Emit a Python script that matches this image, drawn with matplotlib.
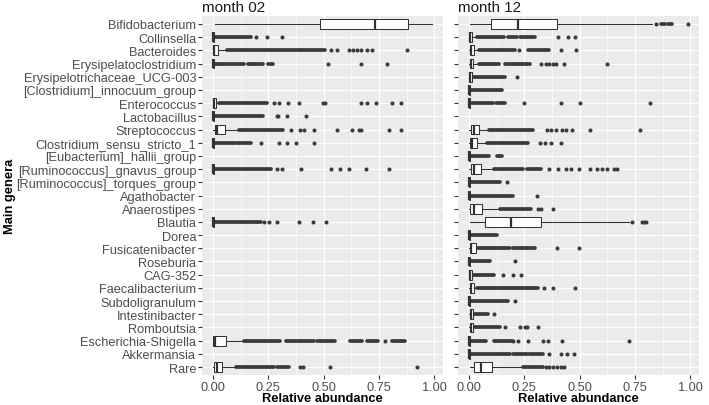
import matplotlib.pyplot as plt

plt.rcParams['font.family'] = ['Liberation Sans', 'DejaVu Sans']

# Data
genera = ["Bifidobacterium", "Collinsella", "Bacteroides", "Erysipelatoclostridium",
          "Erysipelotrichaceae_UCG-003", "[Clostridium]_innocuum_group", "Enterococcus",
          "Lactobacillus", "Streptococcus", "Clostridium_sensu_stricto_1",
          "[Eubacterium]_hallii_group", "[Ruminococcus]_gnavus_group",
          "[Ruminococcus]_torques_group", "Agathobacter", "Anaerostipes", "Blautia", "Dorea",
          "Fusicatenibacter", "Roseburia", "CAG-352", "Faecalibacterium", "Subdoligranulum",
          "Intestinibacter", "Romboutsia", "Escherichia-Shigella", "Akkermansia", "Rare"]
panels = ["month 02", "month 12"]

# box stats per genus: (whisker low, q1, median, q3, whisker high), None = no data
m02_box = [
    (0.008, 0.482, 0.731, 0.881, 0.988), (0, 0, 0.001, 0.003, 0.008),
    (0, 0.001, 0.005, 0.024, 0.065), (0, 0, 0.001, 0.003, 0.008), None, None,
    (0, 0.001, 0.003, 0.013, 0.027), (0, 0, 0.001, 0.003, 0.008),
    (0, 0.008, 0.02, 0.053, 0.117), (0, 0, 0.001, 0.003, 0.008), None,
    (0, 0, 0.001, 0.003, 0.008), None, None, None, (0, 0, 0.001, 0.003, 0.008),
    None, None, None, None, None, None, None, None,
    (0, 0.002, 0.01, 0.057, 0.14), None, (0, 0.005, 0.017, 0.042, 0.102)]
m12_box = [
    (0.006, 0.10, 0.22, 0.40, 0.828), (0, 0, 0.004, 0.012, 0.035),
    (0, 0.003, 0.008, 0.021, 0.046), (0, 0.004, 0.008, 0.019, 0.046),
    (0, 0, 0.004, 0.012, 0.024), (0, 0, 0.001, 0.003, 0.008), (0, 0, 0.001, 0.005, 0.012),
    None, (0, 0.009, 0.024, 0.046, 0.09), (0, 0.004, 0.012, 0.038, 0.083),
    (0, 0, 0.001, 0.003, 0.008), (0, 0.009, 0.024, 0.053, 0.112),
    (0, 0, 0.001, 0.003, 0.008), (0, 0, 0.001, 0.003, 0.008),
    (0, 0.004, 0.021, 0.06, 0.142), (0.003, 0.071, 0.19, 0.325, 0.725),
    (0, 0, 0.001, 0.003, 0.008), (0, 0.003, 0.008, 0.031, 0.04),
    (0, 0, 0.001, 0.003, 0.008), (0, 0, 0.004, 0.012, 0.016),
    (0, 0.003, 0.008, 0.021, 0.038), (0, 0, 0.001, 0.003, 0.008),
    (0, 0.004, 0.008, 0.019, 0.024), (0, 0.003, 0.008, 0.019, 0.027),
    (0, 0, 0.001, 0.005, 0.01), (0, 0, 0.001, 0.003, 0.008),
    (0.006, 0.024, 0.056, 0.105, 0.245)]

# runs of overlapping outliers (from, to)
m02_dense = [
    [], [(0.008, 0.17)], [(0.065, 0.507)],
    [(0.008, 0.08), (0.09, 0.14), (0.16, 0.227), (0.25, 0.27)], [], [],
    [(0.027, 0.245)], [(0.008, 0.227)], [(0.117, 0.317)],
    [(0.008, 0.1), (0.11, 0.173)], [], [(0.008, 0.26)], [], [], [], [(0.008, 0.215)],
    [], [], [], [], [], [], [], [],
    [(0.14, 0.305), (0.328, 0.455), (0.47, 0.553), (0.62, 0.673), (0.695, 0.748),
     (0.808, 0.868)], [], [(0.102, 0.275), (0.29, 0.342)]]
m12_dense = [
    [(0.87, 0.885), (0.9, 0.916)], [(0.035, 0.16), (0.175, 0.215), (0.23, 0.296)],
    [(0.046, 0.208), (0.267, 0.363)], [(0.046, 0.134), (0.164, 0.274)],
    [(0.024, 0.164)], [(0.008, 0.149)], [(0.012, 0.11), (0.12, 0.164)], [],
    [(0.09, 0.289)], [(0.083, 0.267)], [(0.008, 0.09), (0.127, 0.149)],
    [(0.112, 0.245), (0.26, 0.326)], [(0.008, 0.142)], [(0.008, 0.198)],
    [(0.142, 0.282)], [], [(0.008, 0.127)], [(0.04, 0.186), (0.2, 0.296)],
    [(0.008, 0.094)], [(0.016, 0.112)], [(0.038, 0.311)], [(0.008, 0.178)],
    [(0.024, 0.086)], [(0.027, 0.142)], [(0.01, 0.075), (0.112, 0.193)],
    [(0.008, 0.186), (0.2, 0.26), (0.27, 0.333)], [(0.245, 0.333)]]

# single outliers
m02_points = [
    [], [0.195, 0.242, 0.312],
    [0.535, 0.56, 0.615, 0.632, 0.65, 0.67, 0.698, 0.718, 0.878],
    [0.522, 0.668, 0.785], [], [],
    [0.275, 0.297, 0.338, 0.389, 0.497, 0.505, 0.671, 0.695, 0.736, 0.808, 0.848],
    [0.287, 0.294, 0.335, 0.422],
    [0.353, 0.395, 0.41, 0.455, 0.56, 0.628, 0.66, 0.671, 0.797, 0.85],
    [0.218, 0.297, 0.335, 0.375, 0.455], [],
    [0.29, 0.312, 0.398, 0.535, 0.575, 0.617, 0.69, 0.796], [], [], [],
    [0.23, 0.252, 0.29, 0.39, 0.452, 0.51],
    [], [], [], [], [], [], [], [], [0.778], [], [0.395, 0.405, 0.527, 0.923]]
m12_points = [
    [0.847, 0.988], [0.404, 0.448, 0.481], [0.226, 0.414, 0.485],
    [0.326, 0.348, 0.363, 0.378, 0.393, 0.43, 0.625], [0.215], [],
    [0.248, 0.414, 0.503, 0.817], [],
    [0.351, 0.37, 0.392, 0.422, 0.44, 0.466, 0.547, 0.772], [0.322, 0.345, 0.37, 0.414],
    [], [0.363, 0.404, 0.437, 0.459, 0.496, 0.545, 0.58, 0.6, 0.625, 0.655, 0.667],
    [0.171], [0.307], [0.311, 0.326, 0.378], [0.737, 0.78, 0.79, 0.80], [],
    [0.397, 0.496], [0.208], [0.153, 0.2, 0.235], [0.34, 0.378, 0.478], [0.208],
    [0.112], [0.164, 0.23, 0.252, 0.262, 0.311],
    [0.2, 0.223, 0.267, 0.336, 0.355, 0.422, 0.725], [0.363, 0.414, 0.444, 0.473],
    [0.348, 0.363, 0.378, 0.4, 0.415, 0.43]]

W, H = 709, 406
fig = plt.figure(figsize=(W / 100, H / 100), dpi=100)
dark = '#333333'

boxes = [m02_box, m12_box]
dense = [m02_dense, m12_dense]
points = [m02_points, m12_points]
lefts = [202, 458]

for k in range(2):
    ax = fig.add_axes([lefts[k] / W, (H - 376) / H, 241 / W, 359 / H])
    ax.set_facecolor('#EBEBEB')
    for s in ax.spines.values():
        s.set_visible(False)

    stats = []
    pos = []
    for i, b in enumerate(boxes[k]):
        if b is None:
            continue
        stats.append(dict(whislo=b[0], q1=b[1], med=b[2], q3=b[3], whishi=b[4], fliers=[]))
        pos.append(i)
    ax.bxp(stats, positions=pos, orientation='horizontal', widths=0.75,
           patch_artist=True, showcaps=False, showfliers=False,
           boxprops=dict(facecolor='white', edgecolor=dark, linewidth=0.75),
           medianprops=dict(color=dark, linewidth=1.6),
           whiskerprops=dict(color=dark, linewidth=0.75), zorder=3)

    for i in range(len(genera)):
        for lo, hi in dense[k][i]:
            ax.plot([lo, hi], [i, i], color='#3a3a3a', lw=2.7, solid_capstyle='round',
                    zorder=2)
        if points[k][i]:
            ax.plot(points[k][i], [i] * len(points[k][i]), 'o', ms=2.9, color='#3a3a3a',
                    mec='none', zorder=2)

    ax.set_xlim(-0.05, 1.04)
    ax.set_ylim(len(genera) - 0.4, -0.6)
    ax.set_xticks([0, 0.25, 0.5, 0.75, 1.0])
    ax.set_xticklabels(['0.00', '0.25', '0.50', '0.75', '1.00'])
    ax.set_xticks([0.125, 0.375, 0.625, 0.875], minor=True)
    ax.set_yticks(range(len(genera)))
    if k == 0:
        ax.set_yticklabels(genera)
    else:
        ax.set_yticklabels([])
    ax.tick_params(which='major', length=2.7, width=0.8, color=dark, pad=1.5,
                   labelsize=9.2, labelcolor='#4D4D4D')
    ax.tick_params(which='minor', length=0)
    ax.grid(which='major', color='white', lw=0.8)
    ax.grid(which='minor', axis='x', color='white', lw=0.4)
    ax.set_axisbelow(True)

    ax.set_title(panels[k], loc='left', fontsize=10.9, pad=3.8, color='#1A1A1A')
    fig.text((lefts[k] + 120.5) / W, 1 - 399 / H, 'Relative abundance', ha='center',
             va='center', fontsize=9.3, fontweight='bold')

fig.text(10 / W, 1 - 196.5 / H, 'Main genera', rotation=90, ha='center', va='center',
         fontsize=9.3, fontweight='bold')

fig.savefig('out.png', dpi=100)
